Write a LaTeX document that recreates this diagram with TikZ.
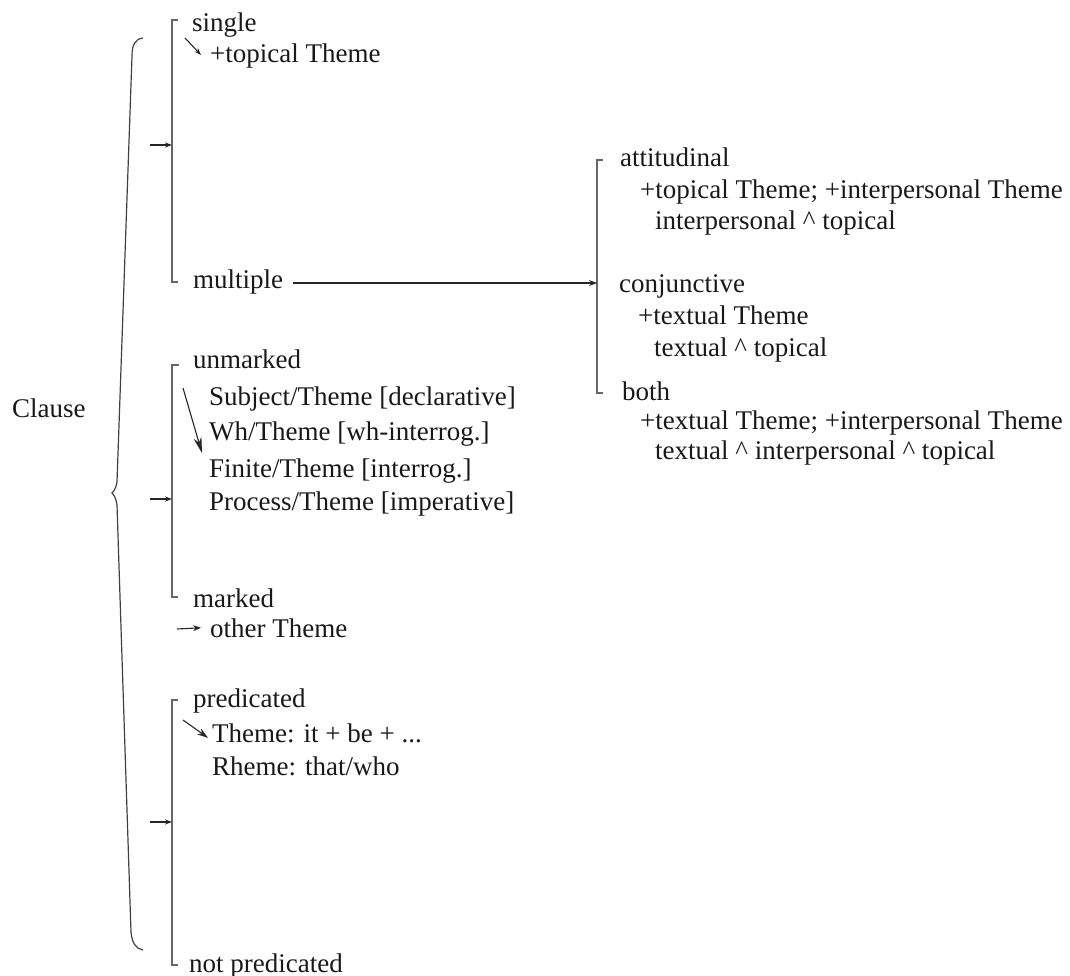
\documentclass[tikz,border=0pt]{standalone}
\usepackage{fontspec}
\setmainfont{Liberation Serif}
\usepackage{tikz}
\usetikzlibrary{calc}
\usetikzlibrary{positioning}
\usetikzlibrary{arrows.meta}

\begin{document}
\begin{tikzpicture}[x=1pt, y=-1pt,
		txt/.style={anchor=base west, inner sep=0pt, font=\fontsize{27}{32}\selectfont, text=black!90},
		bracket/.style={draw=black!60, line width=1.3pt},
		link/.style={draw=black!85, line width=1.1pt},
		>={Stealth[length=8pt, width=6pt]}]
				\useasboundingbox (0,0) rectangle (1070,976);
				
				\node[txt] (clause) at (12,417) {Clause};
				
				\node[txt] (single) at (192,32) {single};
				\node[txt] (topical) at (210,63) {+topical Theme};
				\node[txt] (multiple) at (193,288) {multiple};
				
				\node[txt] (attitudinal) at (620,167) {attitudinal};
				\node[txt] (att1) at (640,199) {+topical Theme; +interpersonal Theme};
				\node[txt] (att2) at (655,230) {interpersonal \^{} topical};
				\node[txt] (conjunctive) at (619,292) {conjunctive};
				\node[txt] (conj1) at (638,324) {+textual Theme};
				\node[txt] (conj2) at (654,356) {textual \^{} topical};
				\node[txt] (both) at (622,400) {both};
				\node[txt] (both1) at (640,429) {+textual Theme; +interpersonal Theme};
				\node[txt] (both2) at (655,459) {textual \^{} interpersonal \^{} topical};
				
				\node[txt] (unmarked) at (193,368) {unmarked};
				\node[txt] (subj) at (209,405) {Subject/Theme [declarative]};
				\node[txt] (wh) at (209,440) {Wh/Theme [wh-interrog.]};
				\node[txt] (finite) at (209,477) {Finite/Theme [interrog.]};
				\node[txt] (process) at (209,510) {Process/Theme [imperative]};
				\node[txt] (marked) at (193,607) {marked};
				\node[txt] (other) at (210,637) {other Theme};
				
				\node[txt] (predicated) at (193,707) {predicated};
				\node[txt] (thpred) at (212,742) {Theme: it + be + ...};
				\node[txt] (rheme) at (212,775) {Rheme: that/who};
				\node[txt] (notpred) at (189,972) {not predicated};
				
				% bracket corners and entry points
				\coordinate (s1a) at (172,20);  \coordinate (s1b) at (172,282); \coordinate (s1in) at (172,145);
				\coordinate (s2a) at (597,160); \coordinate (s2b) at (597,393); \coordinate (s2in) at (597,283);
				\coordinate (s3a) at (172,365); \coordinate (s3b) at (172,597); \coordinate (s3in) at (172,499);
				\coordinate (s4a) at (172,700); \coordinate (s4b) at (172,965); \coordinate (s4in) at (172,822);
				
				\draw[bracket] ($(s1a)+(6,0)$) -- (s1a) -- (s1b) -- ++(6,0);
				\draw[bracket] ($(s2a)+(6,0)$) -- (s2a) -- (s2b) -- ++(6,0);
				\draw[bracket] ($(s3a)+(7,0)$) -- (s3a) -- (s3b) -- ++(6,0);
				\draw[bracket] ($(s4a)+(6,0)$) -- (s4a) -- (s4b) -- ++(6,0);
				
				% the big brace
				\coordinate (brtop) at (143,38);
				\coordinate (brtip) at (112,493);
				\coordinate (brbot) at (143,950);
				\draw[black!75, line width=1.2pt] (brtop) .. controls (135,39) and (132,45) .. (132,56) -- (117,482) .. controls (116,488) and (114,491) .. (brtip) .. controls (114,495) and (116,498) .. (117,505) -- (131,932) .. controls (132,943) and (136,949) .. (brbot);
				
				% entry arrows
				\coordinate (e1) at (150,145);
				\coordinate (e3) at (150,499);
				\coordinate (e4) at (150,822);
				\draw[link, -{Stealth[length=7pt, width=5pt]}] (e1) -- (s1in);
				\draw[link, -{Stealth[length=7pt, width=5pt]}] (e3) -- (s3in);
				\draw[link, -{Stealth[length=7pt, width=5pt]}] (e4) -- (s4in);
				\draw[link, ->] (multiple.east |- s2in) ++(10,0) -- (s2in);
				
				% realisations
				\coordinate (r1) at (185,38);
				\coordinate (r3) at (183,388);
				\coordinate (r4) at (177,629);
				\coordinate (r5) at (183,720);
				\draw[link, -{Stealth[length=7pt, width=5pt]}] (r1) -- (201,55);
				\draw[link, -{Stealth[length=16pt, width=8pt]}] (r3) -- ($(finite.north west)+(-7,-5)$);
				\draw[link, ->] (r4) -- ($(other.west)+(-9,0)$);
				\draw[link, -{Stealth[length=11pt, width=7pt]}] (r5) -- ($(thpred.west)+(-4,5)$);
			\end{tikzpicture}
\end{document}
